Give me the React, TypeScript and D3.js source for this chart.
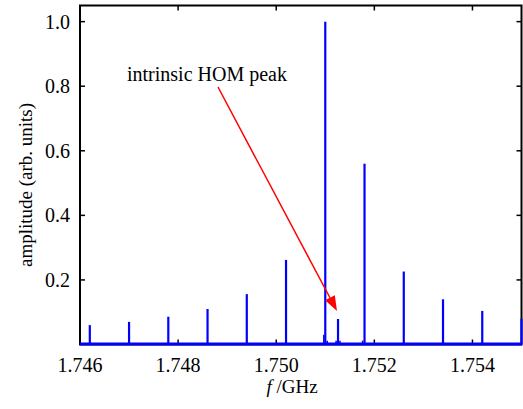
import React from "react";
import * as d3 from "d3";

// Main comb of resonance peaks (GHz, arb. units)
const peakFreqs = [1.7462, 1.7470, 1.7478, 1.7486, 1.7494, 1.7502, 1.7510, 1.7518, 1.7526, 1.7534, 1.7542, 1.7550];
const peakAmps = [0.06, 0.07, 0.086, 0.11, 0.156, 0.262, 1.0, 0.56, 0.226, 0.14, 0.104, 0.08];
// Intrinsic HOM peak
const homFreq = [1.75126];
const homAmp = [0.079];
// Small side bumps near the base
const bumpFreqs = [1.75097, 1.75104, 1.75122, 1.7513, 1.75176, 1.7502];
const bumpAmps = [0.03, 0.012, 0.012, 0.012, 0.012, 0.012];

const xTicks = [1.746, 1.748, 1.75, 1.752, 1.754];
const xTickLabels = ["1.746", "1.748", "1.750", "1.752", "1.754"];
const yTicks = [0.2, 0.4, 0.6, 0.8, 1.0];
const yTickLabels = ["0.2", "0.4", "0.6", "0.8", "1.0"];
const annotationText = "intrinsic HOM peak";

const W = 523;
const H = 409;
const M = { left: 80, right: 1.5, top: 5.5, bottom: 64.5 };

export default function App() {
  const x = d3.scaleLinear().domain([1.746, 1.755]).range([M.left, W - M.right]);
  const y = d3.scaleLinear().domain([0, 1.05]).range([H - M.bottom, M.top]);
  const font = "Liberation Serif, DejaVu Serif, Times New Roman, serif";
  const x0 = x.range()[0];
  const x1 = x.range()[1];
  const yb = y(0);
  const yt = y.range()[1];
  const tl = 5;

  const peaks = peakFreqs.map((f, i) => ({ f, a: peakAmps[i] }));
  const hom = homFreq.map((f, i) => ({ f, a: homAmp[i] }));
  const bumps = bumpFreqs.map((f, i) => ({ f, a: bumpAmps[i] }));

  // arrow
  const ax0 = 218, ay0 = 87, ax1 = 337, ay1 = 311;
  const ang = Math.atan2(ay1 - ay0, ax1 - ax0);
  const hl = 15, hw = 5.5;
  const bx = ax1 - hl * Math.cos(ang);
  const by = ay1 - hl * Math.sin(ang);
  const px = -Math.sin(ang), py = Math.cos(ang);
  const head = `M${ax1},${ay1} L${bx + hw * px},${by + hw * py} L${bx - hw * px},${by - hw * py} Z`;

  const txt = { fontFamily: font, fill: "#000" } as React.CSSProperties;

  return (
    <svg width={W} height={H} style={{ position: "absolute", left: 0, top: 0, background: "#fff" }}>
      <rect x={0} y={0} width={W} height={H} fill="#fff" />
      {/* axes frame */}
      <rect x={x0} y={yt} width={x1 - x0} height={yb - yt} fill="none" stroke="#000" strokeWidth={2} />
      {/* ticks */}
      {xTicks.map((t) => (
        <g key={"xt" + t}>
          <line x1={x(t)} x2={x(t)} y1={yb} y2={yb - tl} stroke="#000" strokeWidth={1.5} />
          <line x1={x(t)} x2={x(t)} y1={yt} y2={yt + tl} stroke="#000" strokeWidth={1.5} />
        </g>
      ))}
      {yTicks.map((t) => (
        <g key={"yt" + t}>
          <line x1={x0} x2={x0 + tl} y1={y(t)} y2={y(t)} stroke="#000" strokeWidth={1.5} />
          <line x1={x1} x2={x1 - tl} y1={y(t)} y2={y(t)} stroke="#000" strokeWidth={1.5} />
        </g>
      ))}
      {/* spectrum */}
      <g stroke="#0000ff" fill="none">
        <line x1={x0} x2={x1} y1={yb - 0.5} y2={yb - 0.5} strokeWidth={3} />
        {peaks.map((p) => (
          <line key={"p" + p.f} x1={x(p.f)} x2={x(p.f)} y1={yb} y2={y(p.a)} strokeWidth={2.2} />
        ))}
        {hom.map((p) => (
          <line key={"h" + p.f} x1={x(p.f)} x2={x(p.f)} y1={yb} y2={y(p.a)} strokeWidth={2.2} />
        ))}
        {bumps.map((p) => (
          <line key={"b" + p.f} x1={x(p.f)} x2={x(p.f)} y1={yb} y2={y(p.a)} strokeWidth={1.5} />
        ))}
      </g>
      {/* tick labels */}
      {xTicks.map((t, i) => (
        <text key={"xl" + t} x={x(t)} y={372} textAnchor="middle" style={{ ...txt, fontSize: 20 }}>
          {xTickLabels[i]}
        </text>
      ))}
      {yTicks.map((t, i) => (
        <text key={"yl" + t} x={70} y={y(t) + 7} textAnchor="end" style={{ ...txt, fontSize: 20 }}>
          {yTickLabels[i]}
        </text>
      ))}
      {/* axis labels */}
      <text x={292} y={393} textAnchor="middle" style={{ ...txt, fontSize: 19 }}>
        <tspan fontStyle="italic">f</tspan>
        <tspan> /GHz</tspan>
      </text>
      <text
        transform={`translate(32,185) rotate(-90)`}
        textAnchor="middle"
        style={{ ...txt, fontSize: 19 }}
      >
        amplitude (arb. units)
      </text>
      {/* annotation */}
      <text x={127} y={80.5} style={{ ...txt, fontSize: 20 }}>
        {annotationText}
      </text>
      <line x1={ax0} y1={ay0} x2={bx} y2={by} stroke="#ff0000" strokeWidth={1.5} />
      <path d={head} fill="#ff0000" />
    </svg>
  );
}
